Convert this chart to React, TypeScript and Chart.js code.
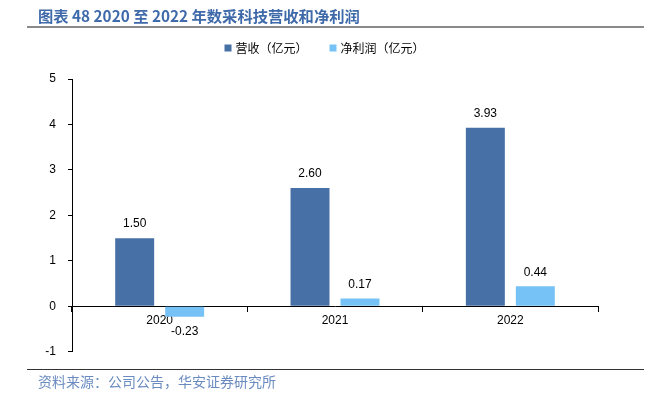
import React, { useEffect, useRef } from "react";
import { Chart, registerables } from "chart.js";

Chart.register(...registerables);

const years = ["2020", "2021", "2022"];
const revenue = [1.5, 2.6, 3.93];
const netProfit = [-0.23, 0.17, 0.44];
const seriesNames = ["营收（亿元）", "净利润（亿元）"];
const seriesColors = ["#4670A6", "#76C1F5"];
const yMin = -1;
const yMax = 5;
const titleText = "图表 48 2020 至 2022 年数采科技营收和净利润";
const sourceText = "资料来源：公司公告，华安证券研究所";

const numFont = '"Liberation Sans", Arial, sans-serif';
const cjkFont = '"Noto Sans CJK SC", "Liberation Sans", sans-serif';

const valueLabelPlugin = {
  id: "valueLabels",
  afterDatasetsDraw(chart: any) {
    const ctx = chart.ctx;
    ctx.save();
    ctx.font = `12px ${numFont}`;
    ctx.fillStyle = "#000";
    ctx.textAlign = "center";
    ctx.textBaseline = "middle";
    chart.data.datasets.forEach((ds: any, di: number) => {
      const meta = chart.getDatasetMeta(di);
      meta.data.forEach((el: any, i: number) => {
        const v = ds.data[i];
        const txt = v.toFixed(2);
        if (v >= 0) ctx.fillText(txt, el.x, el.y - 14);
        else ctx.fillText(txt, el.x, el.y + 15);
      });
    });
    ctx.restore();
  },
};

const customLegendPlugin = {
  id: "customLegend",
  afterDraw(chart: any) {
    const ctx = chart.ctx;
    ctx.save();
    ctx.font = `12px ${cjkFont}`;
    ctx.textBaseline = "middle";
    ctx.textAlign = "left";
    const box = 7;
    const boxGap = 4;
    const itemGap = 22;
    const items = chart.data.datasets.map((ds: any) => ({
      label: ds.label,
      color: ds.backgroundColor,
      w: box + boxGap + ctx.measureText(ds.label).width,
    }));
    const total = items.reduce((a: number, it: any) => a + it.w, 0) + itemGap * (items.length - 1);
    let x = 324.5 - total / 2;
    const y = 48;
    items.forEach((it: any) => {
      ctx.fillStyle = it.color;
      ctx.fillRect(x, y - box / 2, box, box);
      ctx.fillStyle = "#000";
      ctx.fillText(it.label, x + box + boxGap, y + 0.5);
      x += it.w + itemGap;
    });
    ctx.restore();
  },
};

export default function App() {
  const canvasRef = useRef<HTMLCanvasElement | null>(null);

  useEffect(() => {
    if (!canvasRef.current) return;
    const chart = new Chart(canvasRef.current, {
      type: "bar",
      data: {
        labels: years,
        datasets: [
          { label: seriesNames[0], data: revenue, backgroundColor: seriesColors[0] },
          { label: seriesNames[1], data: netProfit, backgroundColor: seriesColors[1] },
        ],
      },
      options: {
        animation: false,
        responsive: false,
        maintainAspectRatio: false,
        devicePixelRatio: 1,
        datasets: {
          bar: { categoryPercentage: 0.57, barPercentage: 0.78 },
        } as any,
        layout: { padding: { left: 0, right: 61, top: 79, bottom: 8 } },
        plugins: {
          legend: { display: false },
          tooltip: { enabled: false },
          title: { display: false },
        },
        scales: {
          x: {
            type: "category",
            position: { y: 0 } as any,
            afterFit: (s: any) => {
              s.height = 0;
            },
            grid: {
              display: true,
              offset: true,
              drawOnChartArea: false,
              drawTicks: true,
              tickLength: 5,
              color: "#000",
              tickColor: "#000",
            },
            border: { display: true, color: "#000", width: 1 },
            ticks: {
              font: { family: numFont, size: 12 },
              color: "#000",
              padding: 2,
              maxRotation: 0,
            },
          },
          y: {
            min: yMin,
            max: yMax,
            afterFit: (s: any) => {
              s.width = 72;
            },
            grid: {
              display: true,
              drawOnChartArea: false,
              drawTicks: true,
              tickLength: 4,
              color: "#000",
              tickColor: "#000",
            },
            border: { display: true, color: "#000", width: 1 },
            ticks: {
              stepSize: 1,
              font: { family: numFont, size: 12 },
              color: "#000",
              padding: 12,
            },
          },
        },
      },
      plugins: [valueLabelPlugin, customLegendPlugin],
    });
    return () => chart.destroy();
  }, []);

  return (
    <div
      style={{
        position: "absolute",
        left: 0,
        top: 0,
        width: 659,
        height: 407,
        background: "#fff",
        overflow: "hidden",
      }}
    >
      <canvas
        ref={canvasRef}
        width={659}
        height={371}
        style={{ position: "absolute", left: 0, top: 0, width: 659, height: 371 }}
      />
      <div
        style={{
          position: "absolute",
          left: 38,
          top: 5,
          fontFamily: cjkFont,
          fontWeight: "bold",
          fontSize: 15.3,
          lineHeight: "20px",
          color: "#3F6AAA",
          whiteSpace: "nowrap",
        }}
      >
        {titleText}
      </div>
      <div
        style={{
          position: "absolute",
          left: 27,
          top: 26,
          width: 617,
          height: 1.5,
          background: "#8a8a8a",
        }}
      />
      <div
        style={{
          position: "absolute",
          left: 27,
          top: 368.5,
          width: 617,
          height: 1.5,
          background: "#333",
        }}
      />
      <div
        style={{
          position: "absolute",
          left: 38,
          top: 372,
          fontFamily: cjkFont,
          fontSize: 14,
          lineHeight: "18px",
          color: "#6A8BC0",
          whiteSpace: "nowrap",
        }}
      >
        {sourceText}
      </div>
    </div>
  );
}
